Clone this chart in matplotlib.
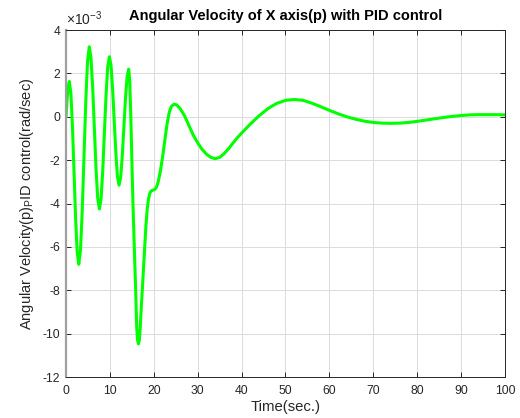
import matplotlib
matplotlib.use('Agg')
import matplotlib.pyplot as plt
import numpy as np

# ------------------- DATA (units of 1e-3 rad/sec) -------------------
time = [0, 0.25, 0.5, 0.75, 1.11, 1.47, 1.83, 2.18, 2.54, 2.9,
        3.3, 3.7, 4.1, 4.5, 4.9, 5.3,
        5.68, 6.07, 6.45, 6.83, 7.22, 7.6,
        7.98, 8.36, 8.74, 9.12, 9.5, 9.88,
        10.25, 10.61, 10.98, 11.35, 11.71, 12.08,
        12.45, 12.81, 13.18, 13.55, 13.91, 14.28,
        14.5, 14.75, 15.0, 15.25, 15.55, 15.85, 16.1, 16.3, 16.5, 16.7,
        16.9, 17.15, 17.4, 17.65, 17.9, 18.2, 18.5, 18.8, 19.1, 19.4,
        19.8, 20.2, 20.6, 21.0, 21.5, 22.0, 22.5, 23.0, 23.5, 24.0,
        24.6, 25.2, 26.0, 27.0, 28.0, 29.0, 30.0, 31.0, 32.0, 33.0,
        34.0, 35.0, 36.0, 37.0, 38.0, 39.0, 40.0, 42.0, 44.0, 46.0,
        48.0, 50.0, 52.0, 54.0, 56.0, 58.0, 60.0, 62.0, 64.0, 66.0,
        68.0, 70.0, 72.0, 74.0, 76.0, 78.0, 80.0, 82.0, 84.0, 86.0,
        88.0, 90.0, 92.0, 94.0, 96.0, 98.0, 100.0]
p_rate = [0, 0.85, 1.42, 1.63, 1.07, -0.48, -2.59, -4.69, -6.24, -6.8,
          -6.13, -4.29, -1.79, 0.72, 2.56, 3.23,
          2.73, 1.36, -0.51, -2.38, -3.75, -4.25,
          -3.78, -2.5, -0.74, 1.02, 2.3, 2.77,
          2.37, 1.29, -0.19, -1.67, -2.75, -3.15,
          -2.79, -1.81, -0.475, 0.86, 1.84, 2.2,
          1.7, 0.1, -2.0, -4.0, -6.0, -7.9, -9.7, -10.3, -10.47, -10.3,
          -9.75, -8.75, -7.9, -7.0, -6.1, -5.05, -4.25, -3.78, -3.52, -3.42,
          -3.38, -3.35, -3.25, -3.0, -2.5, -1.85, -1.1, -0.35, 0.2, 0.48,
          0.58, 0.55, 0.38, 0.05, -0.4, -0.85, -1.2, -1.5, -1.72, -1.87,
          -1.93, -1.87, -1.7, -1.48, -1.22, -0.97, -0.75, -0.33, 0.05, 0.38,
          0.62, 0.76, 0.8, 0.76, 0.63, 0.47, 0.3, 0.14, 0.0, -0.11,
          -0.2, -0.26, -0.29, -0.3, -0.29, -0.26, -0.21, -0.15, -0.09, -0.03,
          0.02, 0.06, 0.09, 0.1, 0.1, 0.1, 0.09]

x_ticks = [0, 10, 20, 30, 40, 50, 60, 70, 80, 90, 100]
y_ticks = [-12, -10, -8, -6, -4, -2, 0, 2, 4]

# ------------------- PLOT -------------------
plt.rcParams['font.family'] = ['Liberation Sans', 'DejaVu Sans']
plt.rcParams['mathtext.default'] = 'regular'
plt.rcParams['axes.unicode_minus'] = False

fig = plt.figure(figsize=(5.2, 4.18), dpi=100)
ax = fig.add_axes([0.127, 0.098, 0.844, 0.830])

ax.plot(time, p_rate, color='#00ff00', lw=2.2, solid_capstyle='round')

ax.set_xlim(0, 100)
ax.set_ylim(-12, 4)
ax.set_xticks(x_ticks)
ax.set_yticks(y_ticks)
ax.grid(True, color='#dcdcdc', lw=0.7)
ax.set_axisbelow(True)
ax.tick_params(direction='in', length=3.5, width=0.7, colors='#262626',
               labelsize=8.7, top=True, right=True, pad=4)
ax.tick_params(axis='x', pad=6)
for s in ax.spines.values():
    s.set_color('#262626')
    s.set_linewidth(0.7)
ax.spines['left'].set_color('#a0a0a0')
ax.spines['left'].set_linewidth(1.6)

ax.text(0.0, 1.006, r'$\times10^{-3}$', transform=ax.transAxes,
        fontsize=10, color='#262626', ha='left', va='bottom')

ax.set_title('Angular Velocity of X axis(p) with PID control',
             fontsize=10.5, fontweight='bold', pad=7)
ax.set_xlabel('Time(sec.)', fontsize=10.7, color='#262626', labelpad=2)
ax.set_ylabel(r'Angular Velocity(p)$_P$ID control(rad/sec)',
              fontsize=10.5, color='#262626', labelpad=5)

fig.savefig('out.png', dpi=100)
